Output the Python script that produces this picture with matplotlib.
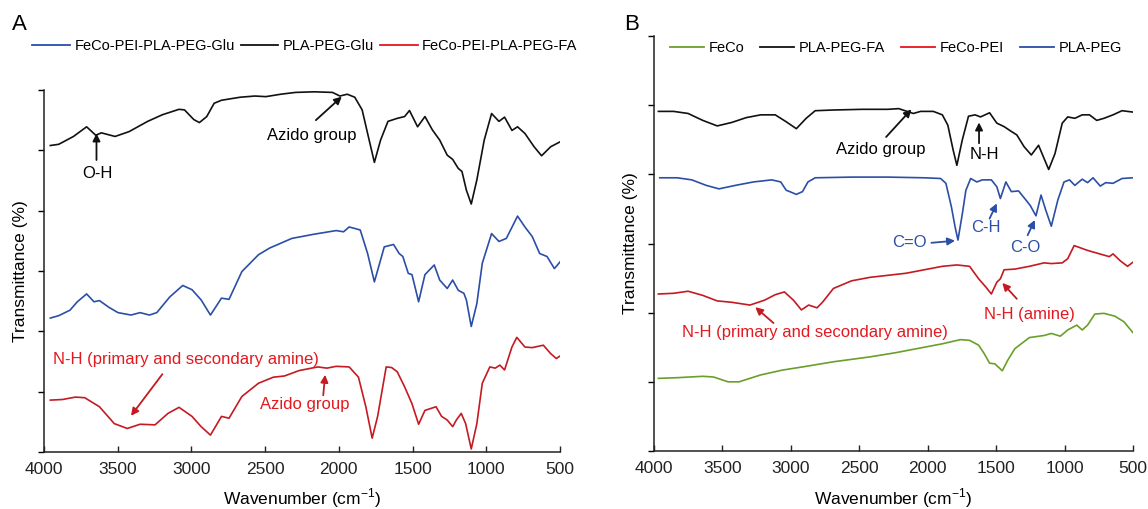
import matplotlib
matplotlib.use("Agg")
import matplotlib.pyplot as plt

plt.rcParams['font.family'] = ['Liberation Sans', 'DejaVu Sans']
plt.rcParams['mathtext.fontset'] = 'custom'
plt.rcParams['mathtext.rm'] = 'Liberation Sans'
plt.rcParams['lines.solid_joinstyle'] = 'round'

# ---- Panel A data (wavenumber cm-1, transmittance in axis units) ----
a_black_wn = [3957, 3900, 3800, 3711, 3649, 3611, 3518, 3423, 3297, 3197, 3084, 3047, 2984, 2946,
              2896, 2846, 2796, 2670, 2570, 2495, 2394, 2294, 2168, 2043, 1993, 1943, 1892, 1842,
              1805, 1759, 1717, 1667, 1604, 1554, 1521, 1466, 1416, 1366, 1316, 1265, 1228, 1190,
              1165, 1135, 1102, 1064, 1014, 964, 914, 876, 826, 788, 738, 676, 625, 563, 500]
a_black_t = [5.08, 5.10, 5.23, 5.39, 5.25, 5.29, 5.23, 5.31, 5.48, 5.59, 5.68, 5.67, 5.51, 5.46,
             5.56, 5.78, 5.83, 5.88, 5.90, 5.89, 5.93, 5.96, 5.97, 5.96, 5.90, 5.93, 5.88, 5.67,
             5.28, 4.80, 5.17, 5.48, 5.53, 5.56, 5.66, 5.39, 5.56, 5.34, 5.17, 4.92, 4.85, 4.70,
             4.65, 4.34, 4.11, 4.51, 5.17, 5.61, 5.48, 5.55, 5.33, 5.39, 5.28, 5.06, 4.91, 5.06, 5.14]

a_blue_wn = [3957, 3900, 3824, 3774, 3711, 3661, 3624, 3561, 3498, 3410, 3348, 3285, 3235, 3147,
             3059, 2996, 2934, 2871, 2796, 2745, 2658, 2545, 2470, 2319, 2168, 2018, 1968, 1930,
             1855, 1805, 1759, 1692, 1629, 1591, 1566, 1529, 1504, 1459, 1416, 1353, 1316, 1265,
             1228, 1190, 1152, 1135, 1102, 1064, 1027, 964, 914, 864, 788, 738, 688, 638, 588, 538, 500]
a_blue_t = [2.22, 2.26, 2.35, 2.49, 2.62, 2.49, 2.51, 2.40, 2.31, 2.27, 2.31, 2.27, 2.31, 2.57,
            2.76, 2.69, 2.52, 2.27, 2.55, 2.53, 2.99, 3.27, 3.38, 3.54, 3.61, 3.67, 3.65, 3.73,
            3.68, 3.29, 2.82, 3.40, 3.44, 3.29, 3.24, 2.96, 2.94, 2.49, 2.94, 3.10, 2.85, 2.71,
            2.85, 2.68, 2.63, 2.52, 2.08, 2.46, 3.13, 3.62, 3.49, 3.54, 3.91, 3.73, 3.57, 3.29,
            3.24, 3.04, 3.15]

a_red_wn = [3957, 3875, 3787, 3724, 3624, 3523, 3435, 3348, 3247, 3159, 3084, 2996, 2934, 2871,
            2796, 2745, 2658, 2545, 2444, 2369, 2269, 2143, 2081, 2018, 1930, 1867, 1817, 1774,
            1737, 1679, 1642, 1604, 1554, 1504, 1459, 1416, 1378, 1341, 1303, 1265, 1228, 1203,
            1170, 1140, 1102, 1064, 1027, 976, 939, 908, 876, 826, 793, 738, 688, 613, 563, 525, 500]
a_red_t = [0.86, 0.87, 0.91, 0.90, 0.75, 0.47, 0.39, 0.46, 0.45, 0.64, 0.74, 0.59, 0.42, 0.28,
           0.59, 0.56, 0.92, 1.14, 1.24, 1.26, 1.35, 1.41, 1.39, 1.42, 1.41, 1.24, 0.75, 0.23,
           0.59, 1.41, 1.40, 1.33, 1.08, 0.80, 0.46, 0.69, 0.72, 0.75, 0.59, 0.53, 0.42, 0.53,
           0.64, 0.47, 0.05, 0.47, 1.14, 1.41, 1.39, 1.44, 1.36, 1.74, 1.90, 1.74, 1.73, 1.77,
           1.63, 1.55, 1.59]

# ---- Panel B data ----
b_black_wn = [3968, 3857, 3751, 3644, 3538, 3432, 3326, 3220, 3114, 3034, 2960, 2888, 2822, 2689,
              2477, 2291, 2212, 2105, 2052, 1959, 1893, 1853, 1814, 1787, 1747, 1702, 1654, 1614,
              1548, 1495, 1442, 1389, 1349, 1296, 1243, 1190, 1150, 1116, 1070, 1017, 977, 925,
              871, 818, 765, 712, 646, 580, 500]
b_black_t = [4.91, 4.91, 4.88, 4.78, 4.70, 4.75, 4.82, 4.86, 4.86, 4.76, 4.66, 4.81, 4.92, 4.93,
             4.94, 4.94, 4.95, 4.88, 4.91, 4.91, 4.86, 4.71, 4.35, 4.13, 4.50, 4.84, 4.86, 4.83,
             4.89, 4.74, 4.69, 4.62, 4.57, 4.40, 4.28, 4.42, 4.23, 4.07, 4.30, 4.74, 4.83, 4.81,
             4.86, 4.86, 4.78, 4.81, 4.86, 4.92, 4.90]

b_blue_wn = [3958, 3830, 3724, 3618, 3525, 3406, 3273, 3140, 3074, 3034, 3008, 2960, 2915, 2875,
             2822, 2557, 2291, 2026, 1906, 1867, 1827, 1800, 1779, 1747, 1721, 1686, 1641, 1601,
             1535, 1495, 1469, 1429, 1389, 1336, 1283, 1251, 1209, 1172, 1137, 1097, 1049, 1004,
             964, 925, 871, 832, 792, 739, 699, 646, 580, 500]
b_blue_t = [3.95, 3.95, 3.92, 3.84, 3.79, 3.84, 3.89, 3.92, 3.89, 3.77, 3.75, 3.71, 3.75, 3.89,
            3.95, 3.96, 3.96, 3.95, 3.94, 3.87, 3.53, 3.24, 3.05, 3.43, 3.77, 3.94, 3.89, 3.92,
            3.92, 3.82, 3.65, 3.89, 3.75, 3.76, 3.63, 3.55, 3.40, 3.70, 3.48, 3.25, 3.63, 3.89,
            3.92, 3.84, 3.93, 3.88, 3.95, 3.83, 3.88, 3.87, 3.94, 3.95]

b_red_wn = [3968, 3857, 3751, 3644, 3538, 3432, 3299, 3193, 3114, 3047, 2981, 2923, 2870, 2809,
            2769, 2689, 2557, 2424, 2291, 2158, 2026, 1893, 1787, 1694, 1628, 1575, 1535, 1495,
            1469, 1442, 1363, 1257, 1150, 1097, 1017, 977, 930, 832, 673, 646, 593, 540, 500]
b_red_t = [2.27, 2.28, 2.31, 2.25, 2.17, 2.15, 2.11, 2.18, 2.26, 2.30, 2.18, 2.04, 2.11, 2.07,
           2.15, 2.35, 2.46, 2.51, 2.54, 2.57, 2.62, 2.67, 2.69, 2.67, 2.49, 2.37, 2.27, 2.44,
           2.49, 2.62, 2.63, 2.67, 2.72, 2.71, 2.72, 2.78, 2.97, 2.90, 2.81, 2.85, 2.75, 2.67, 2.73]

b_green_wn = [3968, 3830, 3644, 3565, 3459, 3379, 3220, 3061, 2901, 2689, 2424, 2238, 2026, 1893,
              1761, 1694, 1628, 1588, 1548, 1509, 1455, 1416, 1363, 1257, 1150, 1097, 1031, 977,
              911, 871, 832, 779, 712, 633, 567, 500]
b_green_t = [1.05, 1.06, 1.08, 1.07, 1.00, 1.00, 1.10, 1.17, 1.22, 1.29, 1.36, 1.42, 1.50, 1.55,
             1.61, 1.60, 1.53, 1.41, 1.27, 1.26, 1.16, 1.31, 1.48, 1.64, 1.67, 1.70, 1.66, 1.75,
             1.82, 1.75, 1.82, 1.98, 1.99, 1.95, 1.87, 1.71]

x_ticks = [4000, 3500, 3000, 2500, 2000, 1500, 1000, 500]
y_ticks = [0, 1, 2, 3, 4, 5, 6]

BLUE = '#2b4ea6'
RED_LINE = '#c41a22'
RED_TEXT = '#e3191f'
GREEN = '#6a9f2a'
BLACK = '#111111'

W, H = 1148, 509
fig = plt.figure(figsize=(W / 100, H / 100), dpi=100)
axA = fig.add_axes([44 / W, 1 - 452 / H, 516 / W, 362 / H])
axB = fig.add_axes([654 / W, 1 - 451 / H, 479 / W, 415 / H])


def style_axis(ax, ylab_x, xlab_y):
    ax.set_xlim(4000, 500)
    ax.set_ylim(0, 6)
    ax.set_xticks(x_ticks)
    ax.set_yticks(y_ticks)
    ax.set_yticklabels([])
    for s in ['top', 'right']:
        ax.spines[s].set_visible(False)
    for s in ['left', 'bottom']:
        ax.spines[s].set_linewidth(1.1)
        ax.spines[s].set_color('#222222')
    ax.tick_params(axis='x', direction='in', length=4, width=1.0, labelsize=12.5, pad=7,
                   colors='#222222')
    ax.tick_params(axis='y', direction='out', length=4, width=1.0)
    ax.set_xlabel('Wavenumber (cm$^{\\mathregular{-1}}$)', fontsize=12.5)
    ax.set_ylabel('Transmittance (%)', fontsize=12.5)
    ax.yaxis.set_label_coords(ylab_x, 0.5)
    ax.xaxis.set_label_coords(0.5, xlab_y)
    ax.xaxis.label.set_verticalalignment('center')
    ax.yaxis.label.set_verticalalignment('center')


def arrow(ax, tail, tip, color):
    ax.annotate('', xy=tip, xytext=tail,
                arrowprops=dict(arrowstyle='-|>', color=color, lw=1.3,
                                mutation_scale=11, shrinkA=0, shrinkB=0))


# ---- Panel A ----
axA.plot(a_blue_wn, a_blue_t, color=BLUE, lw=1.2, label='FeCo-PEI-PLA-PEG-Glu')
axA.plot(a_black_wn, a_black_t, color=BLACK, lw=1.2, label='PLA-PEG-Glu')
axA.plot(a_red_wn, a_red_t, color=RED_LINE, lw=1.2, label='FeCo-PEI-PLA-PEG-FA')
style_axis(axA, -0.046, -0.127)

axA.text(3636, 4.62, 'O-H', fontsize=12, ha='center', va='center')
arrow(axA, (3644, 4.84), (3644, 5.28), BLACK)
axA.text(2181, 5.24, 'Azido group', fontsize=12, ha='center', va='center')
arrow(axA, (2156, 5.50), (1980, 5.89), BLACK)
axA.text(3034, 1.54, 'N-H (primary and secondary amine)', fontsize=12, ha='center',
         va='center', color=RED_TEXT)
arrow(axA, (3197, 1.29), (3410, 0.60), RED_LINE)
axA.text(2231, 0.78, 'Azido group', fontsize=12, ha='center', va='center', color=RED_TEXT)
arrow(axA, (2106, 0.94), (2093, 1.28), RED_LINE)

legA = axA.legend(loc='center left', bbox_to_anchor=(32 / W, 1 - 46 / H),
                  bbox_transform=fig.transFigure, ncol=3, frameon=False, fontsize=10.5,
                  handlelength=2.6, handletextpad=0.3, columnspacing=0.4,
                  borderpad=0, borderaxespad=0)
for ln in legA.get_lines():
    ln.set_linewidth(1.3)
legA.get_lines()[2].set_color('#e8141c')

# ---- Panel B ----
axB.plot(b_green_wn, b_green_t, color=GREEN, lw=1.2, label='FeCo')
axB.plot(b_black_wn, b_black_t, color=BLACK, lw=1.2, label='PLA-PEG-FA')
axB.plot(b_red_wn, b_red_t, color=RED_LINE, lw=1.2, label='FeCo-PEI')
axB.plot(b_blue_wn, b_blue_t, color=BLUE, lw=1.2, label='PLA-PEG')
style_axis(axB, -0.050, -0.113)

axB.text(2344, 4.36, 'Azido group', fontsize=12, ha='center', va='center')
arrow(axB, (2304, 4.54), (2119, 4.94), BLACK)
axB.text(1588, 4.28, 'N-H', fontsize=12, ha='center', va='center')
arrow(axB, (1625, 4.45), (1625, 4.75), BLACK)
axB.text(2132, 3.01, 'C=O', fontsize=12, ha='center', va='center', color=BLUE)
arrow(axB, (1973, 3.01), (1800, 3.04), BLUE)
axB.text(1575, 3.23, 'C-H', fontsize=12, ha='center', va='center', color=BLUE)
arrow(axB, (1548, 3.36), (1495, 3.58), BLUE)
axB.text(1288, 2.94, 'C-O', fontsize=12, ha='center', va='center', color=BLUE)
arrow(axB, (1270, 3.12), (1217, 3.34), BLUE)
axB.text(2822, 1.71, 'N-H (primary and secondary amine)', fontsize=12, ha='center',
         va='center', color=RED_TEXT)
arrow(axB, (3127, 1.85), (3260, 2.08), RED_LINE)
axB.text(1256, 1.97, 'N-H (amine)', fontsize=12, ha='center', va='center', color=RED_TEXT)
arrow(axB, (1349, 2.20), (1455, 2.43), RED_LINE)

legB = axB.legend(loc='center left', bbox_to_anchor=(670 / W, 1 - 48 / H),
                  bbox_transform=fig.transFigure, ncol=4, frameon=False, fontsize=10.5,
                  handlelength=2.3, handletextpad=0.35, columnspacing=1.1,
                  borderpad=0, borderaxespad=0)
for ln in legB.get_lines():
    ln.set_linewidth(1.3)
legB.get_lines()[2].set_color('#e8141c')

fig.text(19 / W, 1 - 25 / H, 'A', fontsize=16, ha='center', va='center')
fig.text(632 / W, 1 - 25 / H, 'B', fontsize=16, ha='center', va='center')

fig.savefig('out.png', dpi=100)
